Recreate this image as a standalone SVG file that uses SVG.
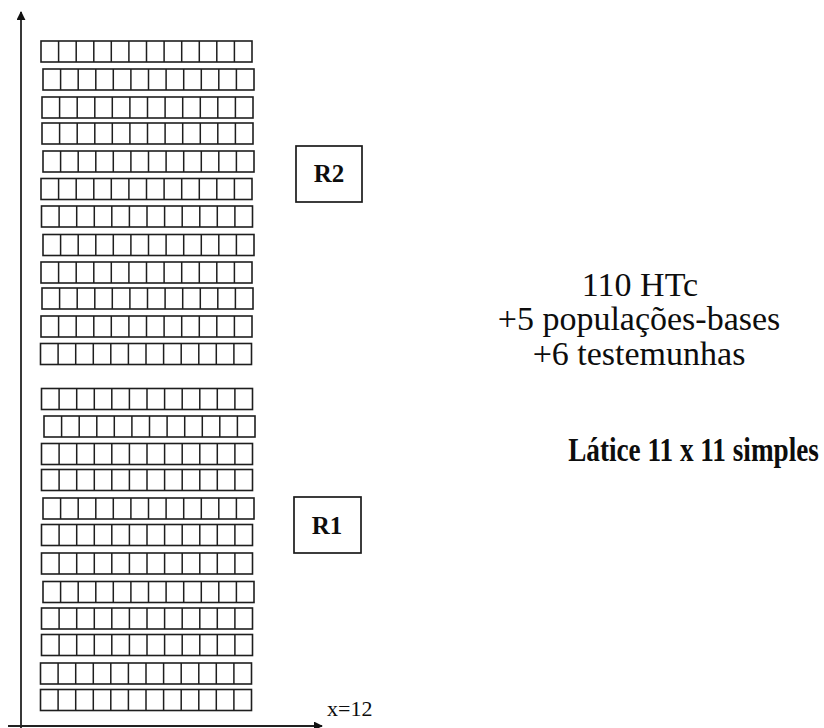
<svg xmlns="http://www.w3.org/2000/svg" xmlns:xlink="http://www.w3.org/1999/xlink" width="824" height="728" viewBox="0 0 824 728">
  <style>
    .cell { fill: #fff; stroke: #1e1e1e; stroke-width: 1.6; }
    .div { stroke: #1e1e1e; stroke-width: 1.5; fill: none; }
    .axis { stroke: #222; stroke-width: 1.8; fill: none; }
    .box { fill: #fff; stroke: #1a1a1a; stroke-width: 1.7; }
    text { fill: #0d0d0d; font-family: "Liberation Serif", "Times New Roman", serif; }
  </style>
  <defs>
    <marker id="arrow" viewBox="0 0 10 10" refX="9" refY="5" markerWidth="9" markerHeight="9" markerUnits="userSpaceOnUse" orient="auto">
      <path d="M0,0 L10,5 L0,10 Z" fill="#111"/>
    </marker>
    <g id="row">
      <rect class="cell" x="0" y="0" width="211" height="21"/>
      <path class="div" d="M17.6,0V21 M35.2,0V21 M52.8,0V21 M70.3,0V21 M87.9,0V21 M105.5,0V21 M123.1,0V21 M140.7,0V21 M158.3,0V21 M175.8,0V21 M193.4,0V21"/>
    </g>
  </defs>
  <rect width="824" height="728" fill="#fff"/>

  <g id="connectors">
    <line class="axis" x1="21" y1="728" x2="21" y2="12" marker-end="url(#arrow)"/>
    <line class="axis" x1="8" y1="726" x2="322" y2="726" marker-end="url(#arrow)"/>
  </g>

  <g id="block-R2">
    <use id="r2-row1" href="#row" xlink:href="#row" x="41" y="41"/>
    <use id="r2-row2" href="#row" xlink:href="#row" x="43" y="69"/>
    <use id="r2-row3" href="#row" xlink:href="#row" x="42" y="97"/>
    <use id="r2-row4" href="#row" xlink:href="#row" x="42" y="123"/>
    <use id="r2-row5" href="#row" xlink:href="#row" x="43" y="151"/>
    <use id="r2-row6" href="#row" xlink:href="#row" x="41" y="178.5"/>
    <use id="r2-row7" href="#row" xlink:href="#row" x="41.5" y="206"/>
    <use id="r2-row8" href="#row" xlink:href="#row" x="43" y="234.5"/>
    <use id="r2-row9" href="#row" xlink:href="#row" x="41" y="262"/>
    <use id="r2-row10" href="#row" xlink:href="#row" x="42" y="288"/>
    <use id="r2-row11" href="#row" xlink:href="#row" x="41" y="316"/>
    <use id="r2-row12" href="#row" xlink:href="#row" x="40.5" y="343.5"/>
  </g>

  <g id="block-R1">
    <use id="r1-row1" href="#row" xlink:href="#row" x="41.5" y="388.5"/>
    <use id="r1-row2" href="#row" xlink:href="#row" x="44" y="416"/>
    <use id="r1-row3" href="#row" xlink:href="#row" x="41.5" y="443.5"/>
    <use id="r1-row4" href="#row" xlink:href="#row" x="41.5" y="469.5"/>
    <use id="r1-row5" href="#row" xlink:href="#row" x="43" y="498"/>
    <use id="r1-row6" href="#row" xlink:href="#row" x="41.5" y="524.5"/>
    <use id="r1-row7" href="#row" xlink:href="#row" x="41.5" y="553"/>
    <use id="r1-row8" href="#row" xlink:href="#row" x="43" y="581.5"/>
    <use id="r1-row9" href="#row" xlink:href="#row" x="41.5" y="608"/>
    <use id="r1-row10" href="#row" xlink:href="#row" x="41.5" y="634.5"/>
    <use id="r1-row11" href="#row" xlink:href="#row" x="40.5" y="663"/>
    <use id="r1-row12" href="#row" xlink:href="#row" x="40.5" y="689.5"/>
  </g>

  <g id="label-R2">
    <rect class="box" x="296" y="146" width="66" height="56"/>
    <text x="329" y="182" font-weight="bold" font-size="25" text-anchor="middle">R2</text>
  </g>

  <g id="label-R1">
    <rect class="box" x="294" y="497" width="67" height="56"/>
    <text x="327" y="534" font-weight="bold" font-size="25" text-anchor="middle">R1</text>
  </g>

  <g id="label-x">
    <text x="327" y="716" font-size="22">x=12</text>
  </g>

  <g id="description">
    <text x="640" y="296" font-size="34" text-anchor="middle">110 HTc</text>
    <text x="639" y="330" font-size="34" text-anchor="middle">+5 populações-bases</text>
    <text x="639" y="365" font-size="34" text-anchor="middle">+6 testemunhas</text>
    <text transform="translate(693.5,461) scale(0.8,1)" x="0" y="0" font-size="34" font-weight="bold" text-anchor="middle">Látice 11 x 11 simples</text>
  </g>
</svg>
